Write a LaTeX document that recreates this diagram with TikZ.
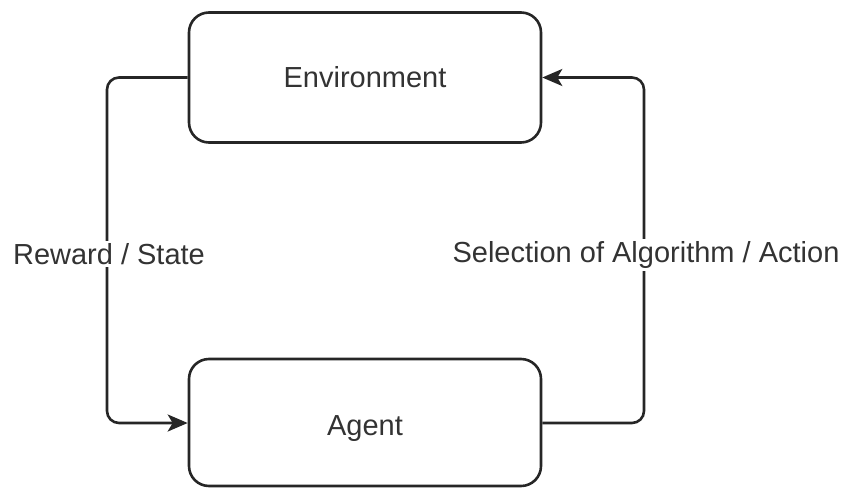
\documentclass[tikz,border=0pt]{standalone}
\usepackage{fontspec}
\setmainfont{Liberation Sans}
\usetikzlibrary{arrows.meta}
\begin{document}
\begin{tikzpicture}[x=1pt,y=-1pt,
  box/.style={draw=black!85, line width=2.6pt, rounded corners=20pt, inner sep=0pt},
  conn/.style={draw=black!85, line width=2.6pt, rounded corners=12pt,
    -{Stealth[length=20pt,width=17pt,inset=5pt]}},
  txt/.style={font=\fontsize{29}{33}\selectfont, text=black!80},
  lbl/.style={txt, fill=white, inner sep=2pt}]
\useasboundingbox (0,0) rectangle (842,487);
\node[box, txt, minimum width=352pt, minimum height=130pt] (env) at (365,77.5) {Environment};
\node[box, txt, minimum width=352pt, minimum height=127pt] (agent) at (365,422.5) {\raisebox{-13pt}[0pt][0pt]{Agent}};
\coordinate (l1) at (107,77.5);
\coordinate (l2) at (107,423);
\coordinate (r1) at (644,423);
\coordinate (r2) at (644,77.5);
\draw[conn] (env.west) -- (l1) -- (l2) -- (agent.west |- l2);
\draw[conn] (agent.east |- r1) -- (r1) -- (r2) -- (env.east);
\node[lbl] (rl) at (109,254) {Reward / State};
\node[lbl] (sl) at (646,255) {Selection of Algorithm / Action};
\end{tikzpicture}
\end{document}
